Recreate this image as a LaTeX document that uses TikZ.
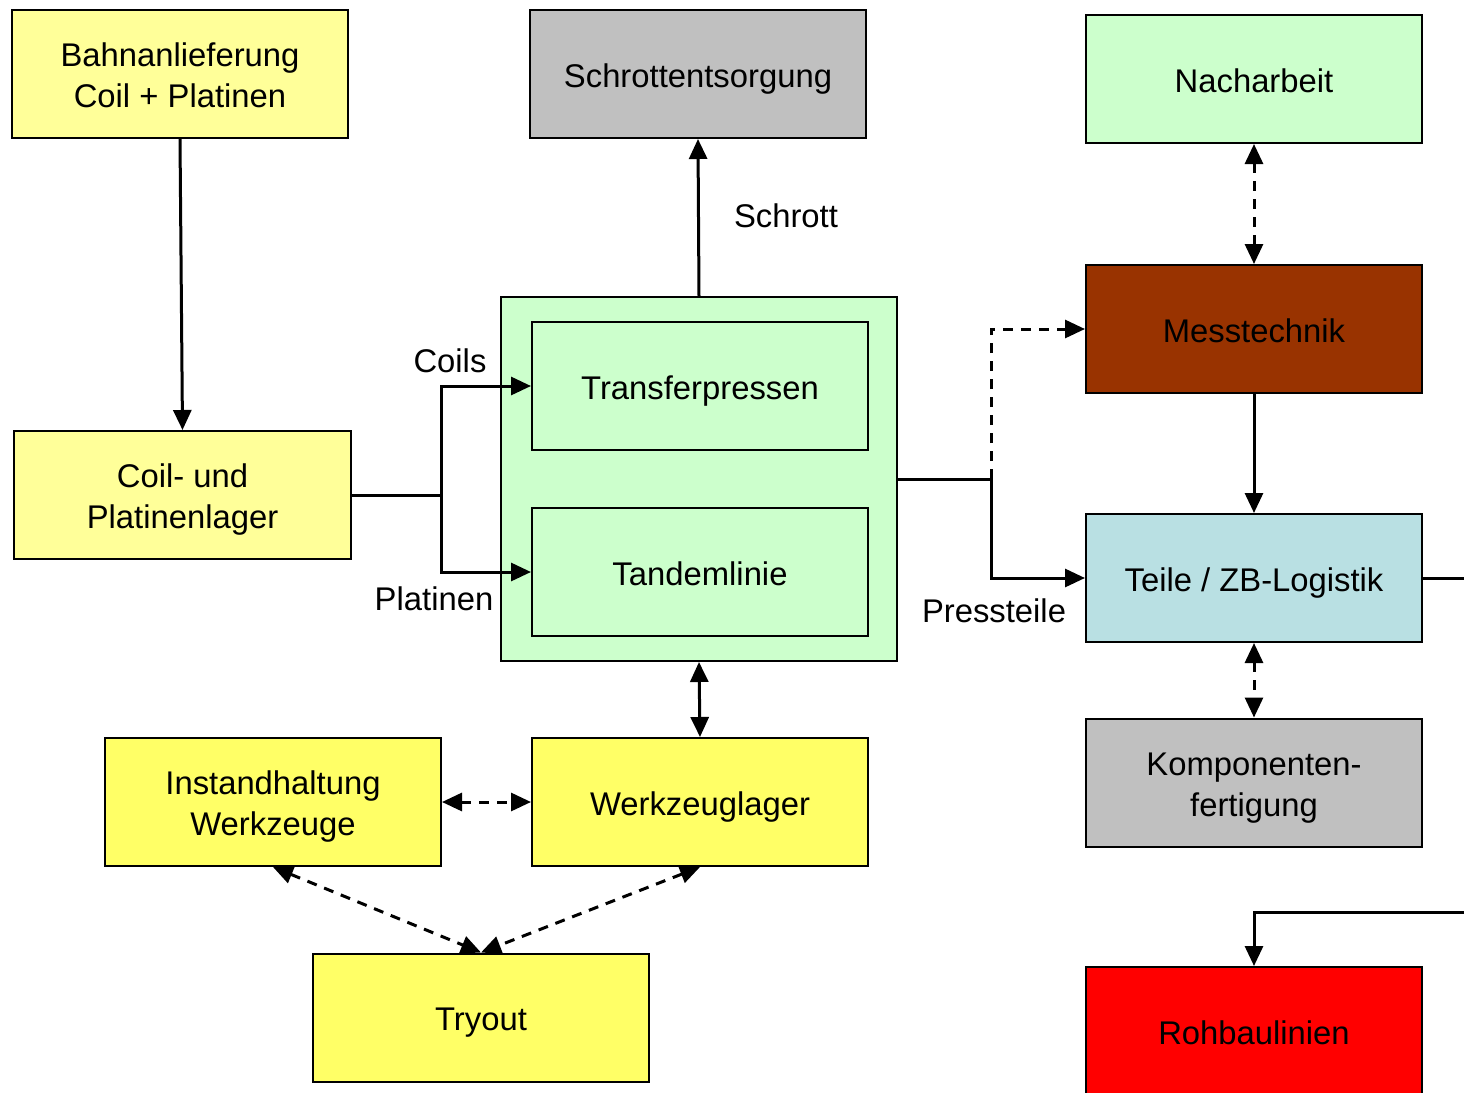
\documentclass[tikz,border=0pt]{standalone}
\usepackage{fontspec}
\setmainfont{Liberation Sans}
\usetikzlibrary{arrows.meta}

\definecolor{paleyellow}{HTML}{FFFF99}
\definecolor{toolyellow}{HTML}{FFFF66}
\definecolor{mint}{HTML}{CCFFCC}
\definecolor{greybox}{HTML}{C0C0C0}
\definecolor{brownbox}{HTML}{993300}
\definecolor{paleblue}{HTML}{B9E0E3}
\definecolor{redbox}{HTML}{FF0000}

% one text line with a fixed cap height and no descender depth
\newcommand{\boxline}[1]{\rule{0pt}{13pt}\smash{#1}}

\tikzset{
  box/.style={draw=black, line width=1pt, minimum width=168pt, minimum height=64pt,
    inner sep=0pt, align=center, font=\fontsize{16.4}{20.5}\selectfont},
  lbl/.style={inner sep=0pt, font=\fontsize{16.4}{20.5}\selectfont},
  conn/.style={line width=1.5pt},
  arr/.style={conn, -{Triangle[length=10pt,width=9pt]}},
  dbl/.style={conn, {Triangle[length=10pt,width=9pt]}-{Triangle[length=10pt,width=9pt]}},
  dsh/.style={dash pattern=on 5pt off 4pt}
}

\begin{document}
\begin{tikzpicture}[x=0.5pt,y=-0.5pt]
\useasboundingbox (0,0) rectangle (1464,1093);

% supply and storage
\node[box, fill=paleyellow] (bahn) at (180,74) {\boxline{Bahnanlieferung}\\\boxline{Coil + Platinen}};
\node[box, fill=paleyellow, minimum width=168.5pt] (lager) at (182.5,495) {\boxline{Coil- und}\\\boxline{Platinenlager}};

% press shop
\node[draw=black, line width=1pt, fill=mint, minimum width=198pt, minimum height=182pt, inner sep=0pt] (cont) at (699,479) {};
\node[box, fill=mint] (trans) at (700,386) {\boxline{Transferpressen}};
\node[box, fill=mint] (tandem) at (700,572) {\boxline{Tandemlinie}};
\node[box, fill=greybox] (schrott) at (698,74) {\boxline{Schrottentsorgung}};

% tooling
\node[box, fill=toolyellow] (wzl) at (700,802) {\boxline{Werkzeuglager}};
\node[box, fill=toolyellow] (inst) at (273,802) {\boxline{Instandhaltung}\\\boxline{Werkzeuge}};
\node[box, fill=toolyellow] (tryout) at (481,1017.5) {\boxline{Tryout}};

% downstream
\node[box, fill=mint] (nach) at (1254,79) {\boxline{Nacharbeit}};
\node[box, fill=brownbox] (mess) at (1254,329) {\boxline{Messtechnik}};
\node[box, fill=paleblue] (teile) at (1254,578) {\boxline{Teile / ZB-Logistik}};
\node[box, fill=greybox] (komp) at (1254,782.5) {\boxline{Komponenten-}\\\boxline{fertigung}};
\node[box, fill=redbox] (roh) at (1254,1031) {\boxline{Rohbaulinien}};

% labels
\node[lbl] (lcoils) at (450,361) {Coils};
\node[lbl] (lplat) at (434,599) {Platinen};
\node[lbl] (lschrott) at (786,216) {Schrott};
\node[lbl] (lpress) at (994,611) {Pressteile};

% connection points
\coordinate (split) at (441,495);
\coordinate (pj) at (991,479);
\coordinate (outR) at (1464,578);
\coordinate (inR) at (1464,912);

% connectors
\draw[arr] (bahn.south) -- (lager.north);
\draw[arr] (cont.north) -- (schrott.south);
\draw[conn] (lager.east) -- (split);
\draw[arr] (split) |- (trans.west);
\draw[arr] (split) |- (tandem.west);
\draw[conn] (cont.east) -- (pj);
\draw[arr] (pj) |- (teile.west);
\draw[arr, dsh] (pj) |- (mess.west);
\draw[dbl, dsh] (nach.south) -- (mess.north);
\draw[arr] (mess.south) -- (teile.north);
\draw[dbl, dsh] (teile.south) -- (komp.north);
\draw[conn] (teile.east) -- (outR);
\draw[arr] (inR) -| (roh.north);
\draw[dbl] (cont.south) -- (wzl.north);
\draw[dbl, dsh] (inst.east) -- (wzl.west);
\draw[dbl, dsh] (inst.south) -- (tryout.north);
\draw[dbl, dsh] (wzl.south) -- (tryout.north);
\end{tikzpicture}
\end{document}
